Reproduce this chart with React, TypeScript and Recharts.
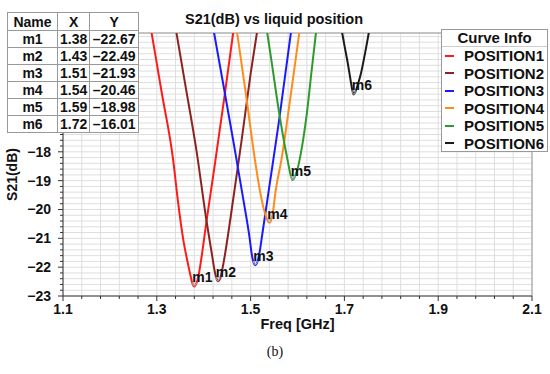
import { LineChart, Line, XAxis, YAxis, CartesianGrid, ReferenceLine, ReferenceDot } from "recharts";

const FONT = '"Liberation Sans", Arial, sans-serif';

// S21 (dB) per frequency (GHz)
const seriesNames = ["POSITION1", "POSITION2", "POSITION3", "POSITION4", "POSITION5", "POSITION6"];

const position1: [number, number][] = [
  [1.285, -13.5], [1.31, -15.9], [1.335, -18.3], [1.345, -19.7], [1.356, -21.0], [1.366, -21.85],
  [1.372, -22.3], [1.376, -22.57], [1.38, -22.67], [1.384, -22.58], [1.389, -22.3], [1.395, -21.7],
  [1.406, -20.4], [1.425, -18.3], [1.445, -16.0], [1.466, -13.5],
];
const position2: [number, number][] = [
  [1.338, -13.5], [1.36, -15.6], [1.385, -18.0], [1.406, -20.4], [1.418, -21.6], [1.423, -22.1],
  [1.427, -22.39], [1.431, -22.49], [1.435, -22.4], [1.44, -22.05], [1.446, -21.5], [1.458, -20.2],
  [1.48, -17.7], [1.5, -15.3], [1.517, -13.5],
];
const position3: [number, number][] = [
  [1.418, -13.5], [1.44, -15.5], [1.465, -17.8], [1.485, -19.7], [1.498, -21.0], [1.502, -21.5],
  [1.506, -21.83], [1.51, -21.93], [1.514, -21.84], [1.519, -21.5], [1.525, -20.85], [1.54, -19.2],
  [1.56, -17.0], [1.589, -13.5],
];
const position4: [number, number][] = [
  [1.468, -13.5], [1.49, -16.0], [1.509, -18.25], [1.521, -19.45], [1.531, -20.15], [1.536, -20.38],
  [1.54, -20.46], [1.544, -20.36], [1.548, -20.05], [1.553, -19.4], [1.566, -18.25], [1.585, -16.1],
  [1.607, -13.5],
];
const position5: [number, number][] = [
  [1.532, -13.5], [1.545, -14.9], [1.561, -16.66], [1.573, -17.8], [1.58, -18.39], [1.586, -18.85],
  [1.59, -18.98], [1.594, -18.88], [1.6, -18.6], [1.606, -18.15], [1.62, -16.66], [1.63, -15.2],
  [1.642, -13.5],
];
const position6: [number, number][] = [
  [1.691, -13.5], [1.7, -14.3], [1.708, -15.0], [1.714, -15.6], [1.717, -15.88], [1.72, -16.01],
  [1.724, -15.9], [1.728, -15.7], [1.735, -15.3], [1.745, -14.5], [1.756, -13.5],
];

const curves = [position1, position2, position3, position4, position5, position6];
const colors = ["#ff1a1a", "#8b2323", "#1a1aff", "#ff8c1a", "#2e9a2e", "#1a1a1a"];

// marker table
const markerNames = ["m1", "m2", "m3", "m4", "m5", "m6"];
const markerFreq = [1.38, 1.43, 1.51, 1.54, 1.59, 1.72];
const markerS21 = [-22.67, -22.49, -21.93, -20.46, -18.98, -16.01];

const Y_MAX = -13.88;
const xTicks = Array.from({ length: 26 }, (_, i) => Math.round((1.1 + i * 0.04) * 100) / 100);
const yTicks = Array.from({ length: 46 }, (_, i) => Math.round((-23 + i * 0.2) * 10) / 10);

const minus = (v: number) => (v < 0 ? "\u2212" + Math.abs(v) : String(v));

const XTick = (props: any) => {
  const { x, y, payload } = props;
  const v = payload.value as number;
  const major = Math.abs(v * 10 - Math.round(v * 10)) < 1e-6 && Math.round(v * 10) % 2 === 1;
  return (
    <g>
      <line x1={x} x2={x} y1={y} y2={y + (major ? 5 : 3)} stroke="#333" />
      {major && (
        <text x={x} y={y + 18} textAnchor="middle" fontFamily={FONT} fontWeight="bold" fontSize={14} fill="#111">
          {v.toFixed(1)}
        </text>
      )}
    </g>
  );
};

// labels above -18 sit behind the marker table, so only the visible ones are drawn
const YTick = (props: any) => {
  const { x, y, payload } = props;
  const v = payload.value as number;
  const major = Number.isInteger(v);
  return (
    <g>
      <line x1={x - (major ? 5 : 3)} x2={x} y1={y} y2={y} stroke="#333" />
      {major && v <= -18 && (
        <text x={x - 12} y={y + 5} textAnchor="end" fontFamily={FONT} fontWeight="bold" fontSize={14} fill="#111">
          {minus(v)}
        </text>
      )}
    </g>
  );
};

const markerShape = (name: string) => (p: any) => (
  <g>
    <path d={`M${p.cx - 2.5},${p.cy - 3.5} L${p.cx + 2.5},${p.cy - 3.5} L${p.cx},${p.cy} Z`} fill="none" stroke="#aaa" strokeWidth={1} />
    <text x={p.cx - 2} y={p.cy - 4} fontFamily={FONT} fontWeight="bold" fontSize={14} fill="#111">
      {name}
    </text>
  </g>
);

const cell: React.CSSProperties = {
  border: "1px solid #999",
  padding: "0 2px",
  height: 16,
  lineHeight: "16px",
  textAlign: "center",
};

export default function App() {
  return (
    <div style={{ position: "absolute", left: 0, top: 0, width: 550, height: 374, background: "#fff", fontFamily: FONT }}>
      <LineChart width={550} height={374} margin={{ top: 33, right: 18, bottom: 0, left: 0 }}>
        <CartesianGrid stroke="#dedede" />
        <XAxis
          type="number"
          dataKey="f"
          domain={[1.1, 2.1]}
          ticks={xTicks}
          interval={0}
          allowDataOverflow
          height={78}
          tickSize={0}
          tickMargin={0}
          tickLine={false}
          axisLine={{ stroke: "#333" }}
          tick={<XTick />}
          label={{
            content: ({ viewBox }: any) => (
              <text x={viewBox.x + viewBox.width / 2} y={viewBox.y + 33} textAnchor="middle" fontFamily={FONT} fontWeight="bold" fontSize={14.5} fill="#111">
                Freq [GHz]
              </text>
            ),
          }}
        />
        <YAxis
          type="number"
          domain={[-23, Y_MAX]}
          ticks={yTicks}
          interval={0}
          allowDataOverflow
          width={63}
          tickSize={0}
          tickMargin={0}
          tickLine={false}
          axisLine={{ stroke: "#333" }}
          tick={<YTick />}
          label={{
            content: ({ viewBox }: any) => {
              const cy = viewBox.y + viewBox.height / 2 + 10;
              return (
                <text x={17} y={cy} transform={`rotate(-90 17 ${cy})`} textAnchor="middle" fontFamily={FONT} fontWeight="bold" fontSize={14} fill="#111">
                  S21(dB)
                </text>
              );
            },
          }}
        />
        <ReferenceLine y={Y_MAX} stroke="#999" />
        <ReferenceLine x={2.1} stroke="#999" />
        {curves.map((c, i) => (
          <Line
            key={seriesNames[i]}
            name={seriesNames[i]}
            data={c.map(([f, s]) => ({ f, s21: s }))}
            dataKey="s21"
            type="monotone"
            stroke={colors[i]}
            strokeWidth={2}
            dot={false}
            isAnimationActive={false}
          />
        ))}
        {markerNames.map((m, i) => (
          <ReferenceDot key={m} x={markerFreq[i]} y={markerS21[i]} r={3} shape={markerShape(m)} />
        ))}
      </LineChart>

      <div style={{ position: "absolute", left: 274, top: 11, transform: "translateX(-50%)", whiteSpace: "nowrap", fontWeight: "bold", fontSize: 14.5, color: "#111" }}>
        S21(dB) vs liquid position
      </div>

      <table
        style={{
          position: "absolute",
          left: 7,
          top: 12,
          borderCollapse: "collapse",
          background: "#fff",
          fontWeight: "bold",
          fontSize: 14,
          color: "#111",
        }}
      >
        <thead>
          <tr>
            <td style={{ ...cell, width: 45, height: 17 }}>Name</td>
            <td style={{ ...cell, width: 25, height: 17 }}>X</td>
            <td style={{ ...cell, width: 44, height: 17 }}>Y</td>
          </tr>
        </thead>
        <tbody>
          {markerNames.map((m, i) => (
            <tr key={m}>
              <td style={cell}>{m}</td>
              <td style={cell}>{markerFreq[i].toFixed(2)}</td>
              <td style={cell}>{"\u2013" + Math.abs(markerS21[i]).toFixed(2)}</td>
            </tr>
          ))}
        </tbody>
      </table>

      <div
        style={{
          position: "absolute",
          left: 441,
          top: 29,
          width: 105,
          height: 121,
          border: "1px solid #999",
          background: "#fff",
          fontWeight: "bold",
          fontSize: 15,
          color: "#111",
        }}
      >
        <div style={{ height: 16, lineHeight: "16px", textAlign: "center", borderBottom: "1px solid #ccc" }}>Curve Info</div>
        {seriesNames.map((n, i) => (
          <div key={n} style={{ height: 17.5, lineHeight: "17.5px", display: "flex", alignItems: "center" }}>
            <span style={{ display: "inline-block", width: 9, height: 2, background: colors[i], marginLeft: 3, marginRight: 10 }} />
            {n}
          </div>
        ))}
      </div>

      <div style={{ position: "absolute", left: 275, top: 344, transform: "translateX(-50%)", fontFamily: '"Liberation Serif", "Times New Roman", serif', fontSize: 14, color: "#111" }}>
        (b)
      </div>
    </div>
  );
}
